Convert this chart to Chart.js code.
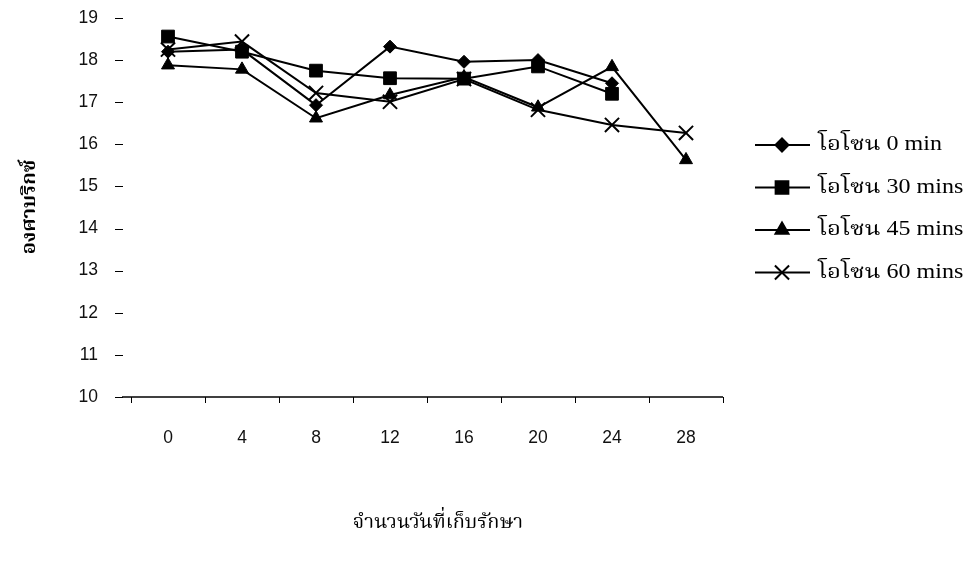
<!DOCTYPE html>
<html>
<head>
<meta charset="utf-8">
<script src="https://cdn.jsdelivr.net/npm/chart.js@4.4.1/dist/chart.umd.min.js"></script>
<style>
  html, body { margin: 0; padding: 0; background: #fff; }
  #wrap { width: 975px; height: 568px; position: relative; }
</style>
</head>
<body>
<div id="wrap"><canvas id="c" width="975" height="568"></canvas></div>
<script>
// Storage days (x categories)
const days = ['0', '4', '8', '12', '16', '20', '24', '28'];

// Brix readings per ozone treatment
const ozone0min  = [18.20, 18.25, 16.93, 18.32, 17.96, 18.00, 17.45, null];
const ozone30min = [18.56, 18.20, 17.75, 17.57, 17.56, 17.85, 17.20, null];
const ozone45min = [17.88, 17.78, 16.62, 17.17, 17.60, 16.88, 17.84, 15.63];
const ozone60min = [18.25, 18.44, 17.22, 17.01, 17.55, 16.82, 16.46, 16.27];

const seriesLabels = ['โอโซน 0 min', 'โอโซน 30 mins', 'โอโซน 45 mins', 'โอโซน 60 mins'];

// Value axis range
const yMin = 10;
const yMax = 19;
const yStep = 1;

const xTitle = 'จำนวนวันที่เก็บรักษา';
const yTitle = 'องศาบริกซ์';

const thaiFont = "'Liberation Serif', 'Noto Serif Thai', 'Noto Sans Thai', 'DejaVu Serif', serif";
const tickFont = { family: "'Liberation Sans', Arial, sans-serif", size: 17.5 };

const markerStyles = [
  { pointStyle: 'rectRot',  radius: 6.5 },
  { pointStyle: 'rect',     radius: 9 },
  { pointStyle: 'triangle', radius: 7.5 },
  { pointStyle: 'crossRot', radius: 10 }
];

const seriesValues = [ozone0min, ozone30min, ozone45min, ozone60min];

const datasets = seriesValues.map((vals, i) => ({
  label: seriesLabels[i],
  data: vals,
  borderColor: '#000',
  backgroundColor: '#000',
  borderWidth: 2,
  tension: 0,
  spanGaps: false,
  pointStyle: markerStyles[i].pointStyle,
  pointRadius: markerStyles[i].radius,
  pointHoverRadius: markerStyles[i].radius,
  pointBackgroundColor: '#000',
  pointBorderColor: '#000',
  pointBorderWidth: markerStyles[i].pointStyle === 'crossRot' ? 2 : 1
}));

// Draw text stretched horizontally (the serif Thai face runs wide)
function wideText(ctx, text, x, y, sx) {
  ctx.save();
  ctx.translate(x, y);
  ctx.scale(sx, 1);
  ctx.fillText(text, 0, 0);
  ctx.restore();
}

// Axis decorations: y tick dashes, extended x axis line, axis titles
const decorPlugin = {
  id: 'decor',
  afterDraw(chart) {
    const ctx = chart.ctx;
    const area = chart.chartArea;
    const ys = chart.scales.y;
    ctx.save();
    ctx.strokeStyle = '#000';
    ctx.lineWidth = 1;
    ys.ticks.forEach(t => {
      const py = Math.round(ys.getPixelForValue(t.value)) + 0.5;
      ctx.beginPath();
      ctx.moveTo(area.left - 16, py);
      ctx.lineTo(area.left - 8, py);
      ctx.stroke();
    });
    ctx.lineWidth = 1.5;
    ctx.beginPath();
    ctx.moveTo(area.left - 9, area.bottom);
    ctx.lineTo(area.right, area.bottom);
    ctx.stroke();

    ctx.fillStyle = '#000';
    ctx.font = `20px ${thaiFont}`;
    ctx.textAlign = 'center';
    ctx.textBaseline = 'middle';
    wideText(ctx, xTitle, 438, 523, 1.0);

    ctx.save();
    ctx.translate(30, 207);
    ctx.rotate(-Math.PI / 2);
    ctx.font = `bold 20px ${thaiFont}`;
    wideText(ctx, yTitle, 0, 0, 1.0);
    ctx.restore();
    ctx.restore();
  }
};

// Legend drawn on the right with sample line + marker
const legendPlugin = {
  id: 'sideLegend',
  afterDraw(chart) {
    const ctx = chart.ctx;
    ctx.save();
    chart.data.datasets.forEach((ds, i) => {
      const y = 145 + 42.5 * i;
      ctx.strokeStyle = '#000';
      ctx.fillStyle = '#000';
      ctx.lineWidth = 2;
      ctx.beginPath();
      ctx.moveTo(755, y);
      ctx.lineTo(810, y);
      ctx.stroke();
      Chart.helpers.drawPoint(ctx, {
        pointStyle: ds.pointStyle,
        radius: ds.pointRadius,
        borderWidth: ds.pointBorderWidth,
        rotation: 0
      }, 782, y);
      ctx.font = `20px ${thaiFont}`;
      ctx.textAlign = 'left';
      ctx.textBaseline = 'middle';
      wideText(ctx, ds.label, 818, y, 1.2);
    });
    ctx.restore();
  }
};

new Chart(document.getElementById('c'), {
  type: 'line',
  data: { labels: days, datasets },
  options: {
    responsive: false,
    devicePixelRatio: 1,
    animation: false,
    layout: { padding: { top: 18, right: 252, left: 0, bottom: 0 } },
    plugins: {
      legend: { display: false },
      tooltip: { enabled: false },
      title: { display: false }
    },
    scales: {
      x: {
        type: 'category',
        offset: true,
        border: { display: false },
        grid: {
          display: true,
          offset: true,
          drawOnChartArea: false,
          drawTicks: true,
          tickLength: 6,
          color: '#000',
          lineWidth: 1
        },
        ticks: {
          padding: 25,
          color: '#111',
          font: tickFont,
          maxRotation: 0,
          autoSkip: false
        },
        afterFit(scale) { scale.height = 171; }
      },
      y: {
        min: yMin,
        max: yMax,
        border: { display: false },
        // invisible tick marks only reserve room between labels and plot
        grid: {
          display: true,
          drawOnChartArea: false,
          drawTicks: true,
          tickLength: 33,
          color: 'rgba(0,0,0,0)'
        },
        ticks: {
          stepSize: yStep,
          padding: 0,
          color: '#111',
          font: tickFont
        },
        afterFit(scale) { scale.width = 131; }
      }
    }
  },
  plugins: [decorPlugin, legendPlugin]
});
</script>
</body>
</html>
